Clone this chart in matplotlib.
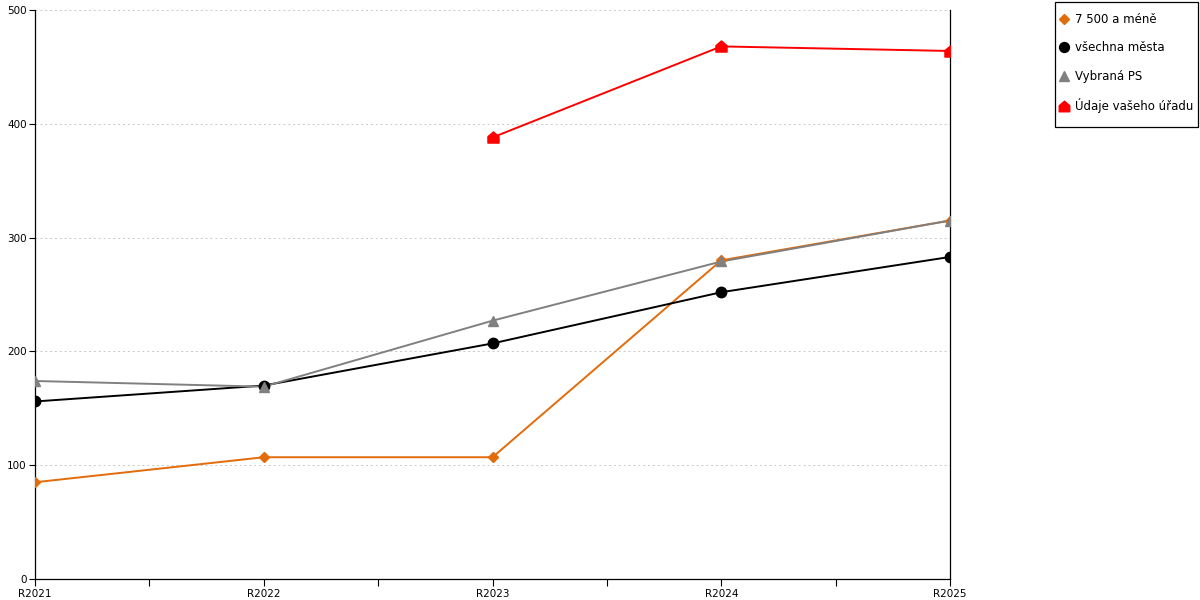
import numpy as np
import matplotlib.pyplot as plt
from matplotlib.path import Path
from matplotlib.patches import Rectangle
from matplotlib.ticker import MultipleLocator

years = ["R2021", "R2022", "R2023", "R2024", "R2025"]
mala = [85, 107, 107, 280, 315]
vsechna = [156, 170, 207, 252, 283]
vybrana = [174, 169, 227, 279, 315]
urad = [np.nan, np.nan, 388, 468, 464]

names = ["7 500 a méně", "všechna města", "Vybraná PS", "Údaje vašeho úřadu"]
colors = ["#e26b0a", "#000000", "#808080", "#ff0000"]

house = Path([(-1, -1), (1, -1), (1, 0.15), (0, 1), (-1, 0.15), (-1, -1)],
             [Path.MOVETO] + [Path.LINETO] * 4 + [Path.CLOSEPOLY])
markers = ["D", "o", "^", house]
msizes = [5.5, 7.5, 7.5, 8]

plt.rcParams['font.family'] = ['DejaVu Sans']
fig = plt.figure(figsize=(12, 6), dpi=100)
ax = fig.add_axes([35/1200, 21/600, 915/1200, 569/600])

x = np.arange(len(years))
series = [mala, vsechna, vybrana, urad]
handles = []
for vals, nm, c, m, ms in zip(series, names, colors, markers, msizes):
    ax.plot(x, vals, color=c, lw=1.4, zorder=3)
    ax.plot(x, vals, ls="none", marker=m, ms=ms, color=c, zorder=4)
    h, = ax.plot([], [], ls="none", marker=m, ms=ms * 0.95, color=c, label=nm)
    handles.append(h)

ax.set_xlim(0, 4)
ax.set_ylim(0, 500)
ax.set_xticks(x)
ax.set_xticklabels(years)
ax.xaxis.set_minor_locator(MultipleLocator(0.5))
ax.yaxis.set_major_locator(MultipleLocator(100))
ax.tick_params(axis="both", which="both", direction="out", labelsize=7.5, width=0.8, pad=2)
ax.tick_params(axis="x", which="major", length=5)
ax.tick_params(axis="x", which="minor", length=5)
ax.tick_params(axis="y", length=4)
ax.grid(axis="y", color="#c8c8c8", ls=(0, (2, 3)), lw=0.7)
ax.set_axisbelow(True)
ax.spines["top"].set_visible(False)
for s in ["left", "right", "bottom"]:
    ax.spines[s].set_linewidth(0.9)
    ax.spines[s].set_color("black")

# legend without its own frame, box drawn separately
leg = fig.legend(handles=handles, loc="upper left", bbox_to_anchor=(1060/1200, 587/600),
                 fontsize=8.5, frameon=False, handlelength=0.6, handletextpad=0.7,
                 labelspacing=1.3, borderpad=0, borderaxespad=0)
fig.patches.append(Rectangle((1055/1200, 473/600), 143/1200, 125/600,
                             transform=fig.transFigure, fill=False,
                             ec="black", lw=0.9))

fig.savefig("out.png", dpi=100)
